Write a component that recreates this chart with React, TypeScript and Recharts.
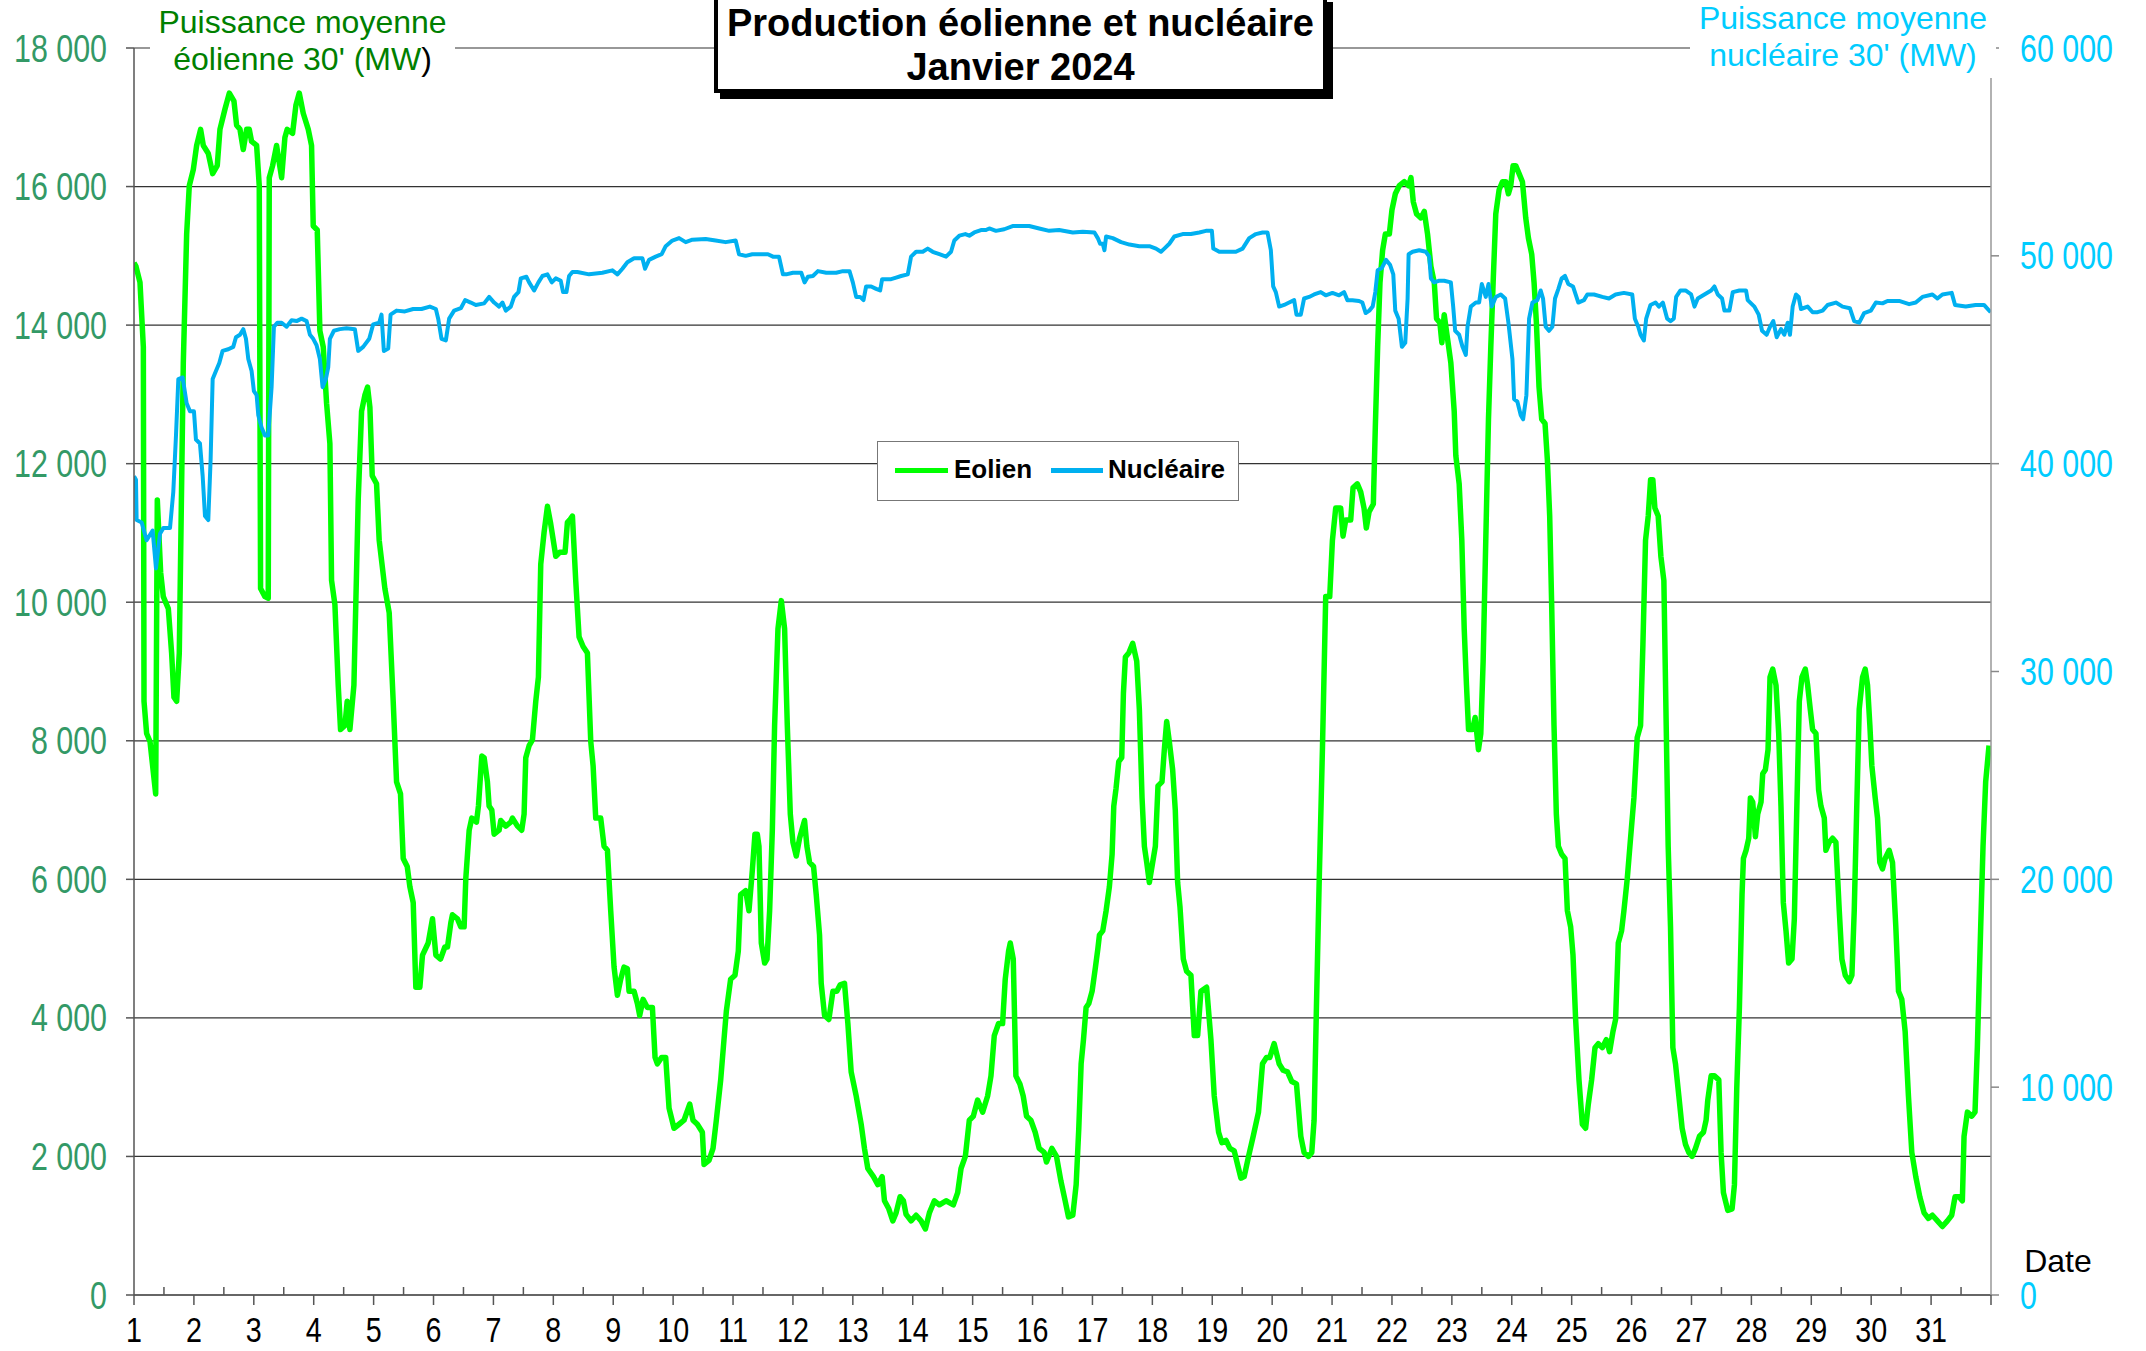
import React from 'react';
import { LineChart, Line, XAxis, YAxis, CartesianGrid } from 'recharts';

const FONT = "'Liberation Sans', Arial, Helvetica, sans-serif";

// graduations
const joursTicks = Array.from({ length: 63 }, (_, i) => 1 + i * 0.5);
const eolienTicks = [0, 2000, 4000, 6000, 8000, 10000, 12000, 14000, 16000, 18000];
const nucleaireTicks = [0, 10000, 20000, 30000, 40000, 50000, 60000];

// [jour, MW] - puissance moyenne éolienne 30'
const eolien: [number, number][] = [
  [1.0, 14900], [1.033, 14849], [1.1, 14616], [1.156, 13686], [1.167, 8570], [1.211, 8105], [1.267, 7990], [1.362, 7233],
  [1.389, 11477], [1.445, 10430], [1.489, 10081], [1.573, 9907], [1.628, 9267], [1.667, 8628], [1.712, 8570], [1.756, 9267],
  [1.823, 13454], [1.879, 15314], [1.923, 16012], [1.99, 16244], [2.046, 16593], [2.112, 16826], [2.157, 16593], [2.24, 16477],
  [2.313, 16186], [2.39, 16302], [2.435, 16826], [2.518, 17116], [2.591, 17349], [2.669, 17232], [2.713, 16884], [2.769, 16826],
  [2.824, 16535], [2.88, 16826], [2.924, 16826], [2.963, 16651], [3.047, 16593], [3.091, 16012], [3.113, 10198], [3.186, 10081],
  [3.241, 10058], [3.258, 16128], [3.314, 16302], [3.38, 16593], [3.464, 16128], [3.519, 16709], [3.558, 16826], [3.647, 16768],
  [3.703, 17174], [3.759, 17349], [3.825, 17058], [3.909, 16826], [3.964, 16593], [3.992, 15430], [4.059, 15372], [4.103, 13919],
  [4.159, 13686], [4.215, 12872], [4.27, 12291], [4.298, 10314], [4.354, 9965], [4.409, 8802], [4.448, 8163], [4.521, 8221],
  [4.559, 8570], [4.604, 8163], [4.671, 8802], [4.743, 11477], [4.799, 12756], [4.854, 12988], [4.899, 13105], [4.938, 12814],
  [4.977, 11826], [5.049, 11709], [5.093, 10895], [5.188, 10198], [5.26, 9849], [5.327, 8570], [5.383, 7407], [5.449, 7233],
  [5.494, 6302], [5.561, 6186], [5.605, 5895], [5.661, 5663], [5.705, 4442], [5.772, 4442], [5.816, 4907], [5.911, 5081],
  [5.983, 5430], [6.039, 4907], [6.117, 4849], [6.189, 5023], [6.233, 5023], [6.289, 5372], [6.316, 5488], [6.4, 5430],
  [6.456, 5314], [6.511, 5314], [6.539, 6012], [6.595, 6709], [6.639, 6884], [6.717, 6826], [6.75, 7058], [6.806, 7779],
  [6.845, 7756], [6.9, 7407], [6.928, 7058], [6.973, 7000], [7.012, 6651], [7.095, 6709], [7.123, 6849], [7.206, 6768],
  [7.29, 6826], [7.318, 6884], [7.401, 6768], [7.473, 6709], [7.512, 6942], [7.54, 7756], [7.596, 7930], [7.651, 8012],
  [7.707, 8570], [7.751, 8919], [7.79, 10547], [7.846, 11012], [7.902, 11384], [7.957, 11128], [8.041, 10663], [8.107, 10721],
  [8.196, 10721], [8.235, 11151], [8.274, 11187], [8.319, 11244], [8.374, 10314], [8.43, 9500], [8.497, 9361], [8.569, 9267],
  [8.625, 7988], [8.664, 7640], [8.708, 6884], [8.791, 6884], [8.847, 6477], [8.903, 6419], [8.958, 5547], [9.014, 4733],
  [9.07, 4326], [9.125, 4558], [9.181, 4733], [9.236, 4709], [9.264, 4384], [9.348, 4384], [9.403, 4209], [9.442, 4035],
  [9.498, 4267], [9.57, 4151], [9.654, 4151], [9.698, 3430], [9.737, 3337], [9.809, 3430], [9.876, 3430], [9.932, 2698],
  [10.015, 2407], [10.099, 2465], [10.182, 2523], [10.277, 2756], [10.332, 2523], [10.404, 2465], [10.488, 2349], [10.516, 1884],
  [10.599, 1942], [10.666, 2116], [10.721, 2523], [10.794, 3105], [10.849, 3686], [10.888, 4093], [10.96, 4558], [11.033, 4616],
  [11.088, 4965], [11.127, 5779], [11.211, 5837], [11.266, 5547], [11.322, 6128], [11.366, 6651], [11.405, 6651], [11.433, 6477],
  [11.472, 5081], [11.528, 4791], [11.567, 4849], [11.611, 5547], [11.656, 6709], [11.694, 8221], [11.75, 9616], [11.806, 10023],
  [11.861, 9616], [11.906, 8221], [11.956, 6942], [12.0, 6535], [12.056, 6337], [12.111, 6593], [12.194, 6849], [12.233, 6477],
  [12.278, 6244], [12.344, 6186], [12.389, 5779], [12.444, 5198], [12.472, 4500], [12.528, 4035], [12.6, 3977], [12.667, 4384],
  [12.733, 4384], [12.789, 4477], [12.861, 4500], [12.917, 3919], [12.972, 3221], [13.056, 2872], [13.139, 2465], [13.194, 2116],
  [13.25, 1826], [13.344, 1709], [13.417, 1593], [13.489, 1709], [13.528, 1360], [13.6, 1244], [13.667, 1070], [13.722, 1186],
  [13.789, 1419], [13.844, 1360], [13.889, 1163], [13.972, 1070], [14.056, 1151], [14.139, 1070], [14.211, 953], [14.278, 1186],
  [14.361, 1360], [14.444, 1302], [14.556, 1360], [14.678, 1302], [14.75, 1477], [14.806, 1826], [14.878, 2000], [14.944, 2523],
  [15.011, 2581], [15.083, 2814], [15.167, 2640], [15.25, 2872], [15.306, 3163], [15.361, 3744], [15.433, 3919], [15.5, 3919],
  [15.544, 4558], [15.6, 4965], [15.628, 5081], [15.678, 4849], [15.722, 3163], [15.789, 3047], [15.844, 2872], [15.9, 2581],
  [15.972, 2523], [16.044, 2349], [16.111, 2116], [16.194, 2058], [16.233, 1919], [16.322, 2116], [16.4, 2000], [16.472, 1651],
  [16.544, 1360], [16.6, 1128], [16.672, 1151], [16.728, 1593], [16.772, 2407], [16.811, 3337], [16.85, 3686], [16.894, 4151],
  [16.939, 4209], [16.994, 4384], [17.05, 4733], [17.089, 4988], [17.117, 5198], [17.172, 5256], [17.228, 5547], [17.283, 5895],
  [17.328, 6361], [17.356, 7058], [17.394, 7314], [17.439, 7698], [17.489, 7756], [17.517, 8686], [17.55, 9209], [17.606, 9267],
  [17.672, 9407], [17.739, 9151], [17.783, 8454], [17.828, 7174], [17.867, 6477], [17.906, 6244], [17.95, 5953], [17.994, 6186],
  [18.05, 6477], [18.094, 7349], [18.161, 7407], [18.2, 7872], [18.239, 8279], [18.283, 7988], [18.339, 7581], [18.383, 7000],
  [18.422, 5953], [18.461, 5605], [18.517, 4849], [18.572, 4674], [18.644, 4616], [18.7, 3744], [18.756, 3744], [18.811, 4384],
  [18.906, 4442], [18.978, 3686], [19.033, 2872], [19.106, 2349], [19.161, 2198], [19.228, 2233], [19.294, 2116], [19.367, 2081],
  [19.422, 1884], [19.478, 1686], [19.533, 1709], [19.606, 2000], [19.683, 2291], [19.772, 2640], [19.839, 3337], [19.906, 3430],
  [19.961, 3430], [20.033, 3628], [20.117, 3337], [20.183, 3244], [20.256, 3221], [20.328, 3081], [20.406, 3047], [20.478, 2291],
  [20.533, 2058], [20.606, 2000], [20.661, 2058], [20.7, 2523], [20.739, 4151], [20.783, 5895], [20.839, 7872], [20.894, 10081],
  [20.961, 10081], [21.006, 10895], [21.061, 11360], [21.144, 11360], [21.183, 10954], [21.228, 11186], [21.311, 11186], [21.35, 11651],
  [21.422, 11709], [21.478, 11593], [21.533, 11360], [21.572, 11070], [21.617, 11302], [21.689, 11419], [21.722, 12523], [21.761, 13686],
  [21.8, 14616], [21.844, 15081], [21.889, 15314], [21.956, 15314], [22.0, 15663], [22.056, 15895], [22.122, 16012], [22.206, 16070],
  [22.278, 16012], [22.317, 16128], [22.356, 15779], [22.411, 15605], [22.483, 15547], [22.539, 15640], [22.594, 15314], [22.65, 14849],
  [22.706, 14616], [22.744, 14093], [22.8, 14035], [22.833, 13744], [22.872, 14151], [22.928, 13802], [22.983, 13454], [23.039, 12756],
  [23.066, 12116], [23.122, 11709], [23.166, 10895], [23.206, 9616], [23.244, 8802], [23.278, 8163], [23.344, 8163], [23.389, 8337],
  [23.444, 7872], [23.483, 8105], [23.522, 9151], [23.566, 10895], [23.611, 12640], [23.65, 13686], [23.689, 14616], [23.733, 15605],
  [23.789, 15954], [23.844, 16070], [23.9, 16070], [23.944, 15895], [23.983, 16012], [24.022, 16302], [24.066, 16302], [24.122, 16186],
  [24.178, 16070], [24.233, 15547], [24.278, 15256], [24.333, 15023], [24.372, 14616], [24.411, 14035], [24.455, 13105], [24.5, 12640],
  [24.555, 12581], [24.594, 12058], [24.633, 11244], [24.666, 9965], [24.705, 8221], [24.744, 6942], [24.778, 6477], [24.833, 6361],
  [24.889, 6302], [24.928, 5547], [24.983, 5314], [25.022, 4907], [25.066, 3977], [25.122, 3105], [25.178, 2465], [25.233, 2407],
  [25.278, 2756], [25.333, 3105], [25.389, 3570], [25.444, 3628], [25.511, 3570], [25.578, 3686], [25.633, 3512], [25.689, 3802],
  [25.733, 3977], [25.778, 5081], [25.833, 5256], [25.872, 5547], [25.928, 6012], [25.983, 6593], [26.039, 7174], [26.094, 8047],
  [26.15, 8221], [26.189, 9384], [26.233, 10895], [26.278, 11244], [26.317, 11767], [26.355, 11767], [26.389, 11360], [26.444, 11244],
  [26.489, 10663], [26.539, 10314], [26.578, 8221], [26.611, 6477], [26.65, 5314], [26.689, 3570], [26.733, 3337], [26.789, 2872],
  [26.844, 2407], [26.9, 2174], [26.955, 2058], [27.011, 2000], [27.067, 2116], [27.133, 2291], [27.2, 2349], [27.244, 2523],
  [27.272, 2814], [27.328, 3163], [27.383, 3163], [27.456, 3105], [27.494, 2058], [27.533, 1477], [27.606, 1221], [27.678, 1244],
  [27.717, 1593], [27.756, 2988], [27.8, 4151], [27.844, 5779], [27.867, 6302], [27.911, 6419], [27.956, 6593], [27.983, 7174],
  [28.022, 7116], [28.067, 6616], [28.106, 6942], [28.161, 7116], [28.189, 7523], [28.233, 7581], [28.278, 7872], [28.311, 8919],
  [28.356, 9035], [28.411, 8802], [28.456, 8105], [28.494, 7058], [28.533, 5663], [28.578, 5256], [28.622, 4791], [28.678, 4849],
  [28.717, 5430], [28.756, 6942], [28.8, 8570], [28.844, 8919], [28.9, 9035], [28.939, 8802], [28.983, 8454], [29.022, 8163],
  [29.078, 8105], [29.122, 7291], [29.161, 7058], [29.217, 6884], [29.244, 6419], [29.3, 6535], [29.356, 6593], [29.411, 6535],
  [29.467, 5547], [29.511, 4849], [29.567, 4616], [29.633, 4523], [29.678, 4616], [29.717, 5547], [29.756, 6942], [29.8, 8454],
  [29.856, 8919], [29.9, 9035], [29.939, 8802], [29.978, 8221], [30.011, 7640], [30.067, 7174], [30.106, 6884], [30.144, 6244],
  [30.189, 6151], [30.233, 6302], [30.3, 6419], [30.356, 6244], [30.411, 5314], [30.456, 4384], [30.511, 4267], [30.567, 3802],
  [30.622, 2872], [30.678, 2058], [30.744, 1709], [30.811, 1419], [30.883, 1186], [30.956, 1105], [31.022, 1151], [31.106, 1070],
  [31.189, 988], [31.272, 1070], [31.344, 1151], [31.4, 1419], [31.467, 1419], [31.522, 1360], [31.55, 2291], [31.606, 2640],
  [31.678, 2581], [31.733, 2640], [31.772, 3570], [31.828, 5314], [31.867, 6477], [31.911, 7407], [31.967, 7930],
];

// [jour, MW] - puissance moyenne nucléaire 30'
const nucleaire: [number, number][] = [
  [1.0, 39400], [1.033, 39225], [1.044, 37287], [1.128, 37170], [1.211, 36317], [1.311, 36783], [1.367, 34961], [1.434, 36628],
  [1.489, 36899], [1.601, 36899], [1.656, 38643], [1.701, 41357], [1.74, 44070], [1.812, 44147], [1.879, 42907], [1.934, 42519],
  [2.001, 42519], [2.034, 41163], [2.101, 40969], [2.146, 39419], [2.185, 37481], [2.24, 37287], [2.279, 40194], [2.313, 44070],
  [2.368, 44457], [2.424, 44845], [2.479, 45426], [2.574, 45504], [2.657, 45620], [2.702, 46085], [2.769, 46202], [2.824, 46473],
  [2.869, 46008], [2.908, 45039], [2.963, 44457], [3.002, 43488], [3.047, 43295], [3.075, 42326], [3.13, 41744], [3.186, 41357],
  [3.241, 41357], [3.297, 43682], [3.336, 46589], [3.392, 46783], [3.464, 46783], [3.547, 46589], [3.631, 46899], [3.714, 46860],
  [3.798, 46977], [3.881, 46860], [3.937, 46202], [3.992, 46008], [4.048, 45698], [4.103, 45039], [4.148, 43682], [4.203, 44070],
  [4.243, 44651], [4.27, 46008], [4.337, 46395], [4.437, 46473], [4.548, 46512], [4.687, 46473], [4.743, 45426], [4.826, 45620],
  [4.927, 46008], [4.993, 46705], [5.093, 46783], [5.132, 47171], [5.171, 45426], [5.244, 45543], [5.283, 47171], [5.383, 47364],
  [5.522, 47326], [5.661, 47442], [5.8, 47442], [5.939, 47558], [6.039, 47442], [6.078, 46977], [6.133, 46008], [6.206, 45930],
  [6.261, 46977], [6.344, 47364], [6.456, 47481], [6.528, 47868], [6.622, 47752], [6.706, 47636], [6.845, 47713], [6.928, 48023],
  [7.012, 47752], [7.095, 47558], [7.151, 47752], [7.206, 47364], [7.29, 47558], [7.345, 48023], [7.418, 48256], [7.457, 48915],
  [7.551, 48992], [7.596, 48721], [7.679, 48333], [7.751, 48721], [7.818, 49031], [7.902, 49109], [7.974, 48721], [8.041, 48915],
  [8.124, 48798], [8.163, 48256], [8.219, 48256], [8.263, 49031], [8.319, 49225], [8.402, 49225], [8.597, 49109], [8.819, 49186],
  [8.986, 49302], [9.07, 49109], [9.153, 49380], [9.236, 49690], [9.348, 49884], [9.487, 49884], [9.531, 49380], [9.598, 49806],
  [9.709, 49961], [9.809, 50078], [9.876, 50465], [9.987, 50736], [10.099, 50853], [10.21, 50659], [10.321, 50775], [10.543, 50814],
  [10.71, 50736], [10.877, 50659], [11.044, 50736], [11.1, 50078], [11.211, 50000], [11.322, 50078], [11.444, 50078], [11.583, 50078],
  [11.667, 49961], [11.767, 49961], [11.833, 49109], [11.889, 49109], [12.0, 49186], [12.139, 49186], [12.194, 48721], [12.25, 48992],
  [12.333, 49031], [12.417, 49264], [12.556, 49186], [12.722, 49186], [12.833, 49264], [12.944, 49264], [13.0, 48721], [13.056, 48023],
  [13.122, 48023], [13.178, 47868], [13.222, 48527], [13.306, 48527], [13.389, 48411], [13.456, 48333], [13.489, 48876], [13.556, 48876],
  [13.639, 48876], [13.722, 48953], [13.806, 49031], [13.917, 49109], [13.972, 49961], [14.056, 50194], [14.167, 50194], [14.25, 50349],
  [14.333, 50194], [14.444, 50078], [14.556, 49961], [14.639, 50194], [14.694, 50736], [14.778, 50969], [14.878, 51047], [14.944, 50969],
  [15.028, 51124], [15.139, 51240], [15.222, 51240], [15.278, 51318], [15.389, 51202], [15.528, 51279], [15.667, 51434], [15.833, 51434],
  [15.944, 51434], [16.111, 51318], [16.278, 51202], [16.444, 51240], [16.672, 51124], [16.839, 51163], [17.033, 51124], [17.089, 50853],
  [17.128, 50581], [17.172, 50581], [17.2, 50271], [17.228, 50930], [17.339, 50853], [17.478, 50659], [17.617, 50543], [17.783, 50465],
  [17.95, 50465], [18.061, 50349], [18.144, 50194], [18.2, 50349], [18.283, 50581], [18.367, 50930], [18.506, 51047], [18.644, 51047],
  [18.783, 51124], [18.894, 51202], [18.994, 51202], [19.017, 50349], [19.117, 50194], [19.283, 50194], [19.394, 50194], [19.506, 50349],
  [19.617, 50853], [19.728, 51047], [19.839, 51124], [19.922, 51124], [19.978, 50271], [20.017, 48527], [20.061, 48256], [20.117, 47558],
  [20.2, 47636], [20.283, 47752], [20.367, 47868], [20.406, 47171], [20.478, 47171], [20.533, 47946], [20.617, 48023], [20.7, 48140],
  [20.811, 48256], [20.894, 48101], [21.006, 48217], [21.117, 48101], [21.2, 48256], [21.256, 47868], [21.339, 47868], [21.45, 47829],
  [21.506, 47752], [21.561, 47248], [21.622, 47364], [21.678, 47558], [21.722, 48256], [21.761, 49302], [21.833, 49419], [21.9, 49806],
  [21.967, 49574], [22.022, 49109], [22.055, 47364], [22.111, 46977], [22.166, 45620], [22.222, 45814], [22.261, 47946], [22.278, 50078],
  [22.344, 50194], [22.455, 50271], [22.566, 50194], [22.622, 49961], [22.65, 48915], [22.705, 48721], [22.778, 48798], [22.872, 48798],
  [22.983, 48721], [23.022, 47558], [23.055, 46395], [23.122, 46202], [23.178, 45620], [23.233, 45233], [23.261, 46589], [23.316, 47558],
  [23.4, 47752], [23.455, 47752], [23.5, 48643], [23.566, 48023], [23.611, 48643], [23.666, 47558], [23.733, 48023], [23.816, 48140],
  [23.889, 47946], [23.944, 46783], [24.011, 45039], [24.039, 43101], [24.094, 42984], [24.15, 42326], [24.189, 42132], [24.244, 43295],
  [24.289, 46977], [24.344, 47752], [24.427, 47868], [24.483, 48333], [24.522, 47946], [24.566, 46589], [24.622, 46395], [24.678, 46589],
  [24.722, 47946], [24.778, 48411], [24.833, 48915], [24.889, 49031], [24.944, 48643], [25.022, 48527], [25.066, 48140], [25.111, 47752],
  [25.205, 47868], [25.261, 48140], [25.372, 48140], [25.511, 48023], [25.622, 47946], [25.733, 48140], [25.872, 48217], [26.011, 48140],
  [26.055, 46977], [26.111, 46589], [26.15, 46202], [26.205, 45930], [26.244, 46977], [26.316, 47636], [26.4, 47752], [26.455, 47558],
  [26.522, 47752], [26.594, 46977], [26.65, 46860], [26.705, 46977], [26.744, 48023], [26.816, 48333], [26.9, 48333], [26.994, 48140],
  [27.05, 47558], [27.105, 47946], [27.216, 48140], [27.328, 48333], [27.383, 48527], [27.439, 48140], [27.511, 47946], [27.55, 47364],
  [27.633, 47364], [27.689, 48256], [27.8, 48333], [27.911, 48333], [27.939, 47868], [28.05, 47558], [28.122, 47171], [28.178, 46395],
  [28.255, 46202], [28.311, 46589], [28.366, 46860], [28.422, 46085], [28.494, 46473], [28.55, 46202], [28.605, 46783], [28.644, 46202],
  [28.689, 47558], [28.744, 48140], [28.789, 48023], [28.828, 47442], [28.939, 47558], [29.022, 47287], [29.105, 47287], [29.189, 47364],
  [29.272, 47636], [29.411, 47752], [29.522, 47558], [29.644, 47481], [29.716, 46860], [29.8, 46783], [29.883, 47248], [29.994, 47364],
  [30.078, 47752], [30.189, 47713], [30.272, 47829], [30.466, 47829], [30.633, 47675], [30.744, 47752], [30.855, 48023], [31.022, 48140],
  [31.105, 47946], [31.189, 48140], [31.344, 48217], [31.4, 47636], [31.578, 47558], [31.744, 47636], [31.883, 47636], [31.994, 47287],
];

const eolienData = eolien.map(([jour, mw]) => ({ jour, mw }));
const nucleaireData = nucleaire.map(([jour, mw]) => ({ jour, mw }));

const milliers = (v: number) => (v === 0 ? '0' : `${v / 1000} 000`);

// texte un peu étroit, comme l'Arial Narrow d'origine
const NARROW = 0.8;
const TICK_FONT = 38;

const XTick = (props: any) => {
  const { x, y, payload } = props;
  const v = payload.value as number;
  const entier = Number.isInteger(v);
  return (
    <g>
      {entier ? (
        <line x1={x} y1={y} x2={x} y2={y + 10} stroke="#555" strokeWidth={1.5} />
      ) : (
        <line x1={x} y1={y - 8} x2={x} y2={y} stroke="#555" strokeWidth={1.5} />
      )}
      {entier && v <= 31 && (
        <text
          transform={`translate(${x},${y + 47}) scale(0.82,1)`}
          textAnchor="middle"
          fontSize={35}
          fill="#000"
          fontFamily={FONT}
        >
          {v}
        </text>
      )}
    </g>
  );
};

const makeYTick = (fill: string, anchor: 'start' | 'end') => (props: any) => {
  const { x, y, payload } = props;
  return (
    <text
      transform={`translate(${x},${y + 13.5}) scale(${NARROW},1)`}
      textAnchor={anchor}
      fontSize={TICK_FONT}
      fill={fill}
      fontFamily={FONT}
    >
      {milliers(payload.value)}
    </text>
  );
};

const LeftTick = makeYTick('#339966', 'end');
const RightTick = makeYTick('#00ccff', 'start');

export default function App() {
  return (
    <div style={{ position: 'absolute', left: 0, top: 0, width: 2146, height: 1351, background: '#fff', fontFamily: FONT, overflow: 'hidden' }}>
      <LineChart width={2146} height={1351} margin={{ top: 48, right: 0, bottom: 0, left: 0 }}>
        <CartesianGrid vertical={false} stroke="#333" strokeWidth={1.2} yAxisId="left" />
        <XAxis
          dataKey="jour"
          type="number"
          domain={[1, 32]}
          ticks={joursTicks}
          interval={0}
          allowDataOverflow
          height={56}
          tickLine={false}
          tickSize={0}
          tickMargin={0}
          tick={XTick}
          axisLine={{ stroke: '#666', strokeWidth: 2 }}
        />
        <YAxis
          yAxisId="left"
          orientation="left"
          width={134}
          domain={[0, 18000]}
          ticks={eolienTicks}
          interval={0}
          tickSize={8}
          tickMargin={19}
          tick={LeftTick}
          tickLine={{ stroke: '#555', strokeWidth: 1.5 }}
          axisLine={{ stroke: '#555', strokeWidth: 1.5 }}
        />
        <YAxis
          yAxisId="right"
          orientation="right"
          width={155}
          domain={[0, 60000]}
          ticks={nucleaireTicks}
          interval={0}
          tickSize={8}
          tickMargin={21}
          tick={RightTick}
          tickLine={{ stroke: '#888', strokeWidth: 1.5 }}
          axisLine={{ stroke: '#999', strokeWidth: 1.5 }}
        />
        <Line
          yAxisId="left"
          data={eolienData}
          dataKey="mw"
          type="linear"
          stroke="#00ff00"
          strokeWidth={5.5}
          strokeLinejoin="round"
          dot={false}
          activeDot={false}
          isAnimationActive={false}
        />
        <Line
          yAxisId="right"
          data={nucleaireData}
          dataKey="mw"
          type="linear"
          stroke="#00b0f0"
          strokeWidth={4}
          strokeLinejoin="round"
          dot={false}
          activeDot={false}
          isAnimationActive={false}
        />
      </LineChart>

      {/* titre */}
      <div
        style={{
          position: 'absolute', left: 714, top: -4, width: 613, height: 97, boxSizing: 'border-box',
          border: '4px solid #000', boxShadow: '6px 6px 0 0 #000', background: '#fff',
          textAlign: 'center', fontWeight: 'bold', fontSize: 38, lineHeight: '44px', paddingTop: 1, color: '#000',
        }}
      >
        Production éolienne et nucléaire
        <br />
        Janvier 2024
      </div>

      {/* titres des axes */}
      <div
        style={{
          position: 'absolute', left: 150, top: 0, width: 305, height: 76, background: '#fff',
          textAlign: 'center', fontSize: 32, lineHeight: '37px', paddingTop: 4, boxSizing: 'border-box', color: '#008000',
        }}
      >
        Puissance moyenne
        <br />
        éolienne 30' (MW<span style={{ color: '#000' }}>)</span>
      </div>
      <div
        style={{
          position: 'absolute', left: 1690, top: 0, width: 306, height: 78, background: '#fff',
          textAlign: 'center', fontSize: 32, lineHeight: '37px', paddingTop: 0, boxSizing: 'border-box', color: '#00ccff',
        }}
      >
        Puissance moyenne
        <br />
        nucléaire 30' (MW)
      </div>
      <div style={{ position: 'absolute', left: 2000, top: 1243, width: 116, textAlign: 'center', fontSize: 32, lineHeight: '37px', color: '#000' }}>
        Date
      </div>

      {/* légende */}
      <div
        style={{
          position: 'absolute', left: 877, top: 441, width: 362, height: 60, boxSizing: 'border-box',
          border: '1.5px solid #777', background: '#fff', fontWeight: 'bold', fontSize: 26, color: '#000',
        }}
      >
        <div style={{ position: 'absolute', left: 17, top: 26, width: 53, height: 5, background: '#00ff00' }} />
        <div style={{ position: 'absolute', left: 76, top: 12, lineHeight: '30px' }}>Eolien</div>
        <div style={{ position: 'absolute', left: 173, top: 26, width: 52, height: 5, background: '#00b0f0' }} />
        <div style={{ position: 'absolute', left: 230, top: 12, lineHeight: '30px' }}>Nucléaire</div>
      </div>
    </div>
  );
}
